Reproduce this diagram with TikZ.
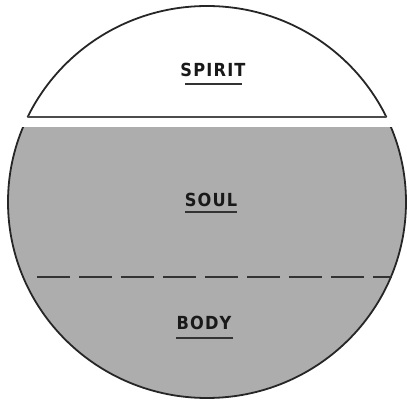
\documentclass[tikz,border=0pt]{standalone}
\usepackage{fontspec}
\newfontfamily\labelfont{DejaVu Sans Condensed}
\newcommand{\lsp}{\kern1.2pt}
\begin{document}
\begin{tikzpicture}[x=1pt,y=1pt,
  rim/.style={line width=1.8pt,black!85},
  chordline/.style={line width=1.1pt,black!70},
  shade/.style={fill=black!32},
  divider/.style={line width=1.3pt,black!80,dash pattern=on 33pt off 9pt},
  lbl/.style={font=\labelfont\bfseries\fontsize{18}{18}\selectfont,text=black!90,inner sep=0pt},
  uline/.style={line width=1.1pt,black!80}]
\useasboundingbox (0,0) rectangle (407,402);
% top segment (spirit)
\begin{scope}
  \clip (0,285) rectangle (407,402);
  \draw[rim] (207,200) ellipse [x radius=199,y radius=196];
\end{scope}
\begin{scope}
  \clip (207,200) ellipse [x radius=199,y radius=196];
  \draw[chordline] (0,285) -- (407,285);
\end{scope}
% bottom segment (soul + body)
\begin{scope}
  \clip (0,0) rectangle (407,274);
  \fill[shade] (207,200) ellipse [x radius=199,y radius=196];
  \draw[rim] (207,200) ellipse [x radius=199,y radius=196];
\end{scope}
\coordinate (dl) at (37,125);
\coordinate (dr) at (392,125);
\draw[divider] (dl) -- (dr);
% labels
\node[lbl] (spirit) at (213,332) {S\lsp P\lsp I\lsp R\lsp I\lsp T};
\node[lbl] (soul) at (211,202) {S\lsp O\lsp U\lsp L};
\node[lbl] (body) at (204,79) {B\lsp O\lsp D\lsp Y};
\coordinate (s1) at (185,318); \coordinate (s2) at (242,318);
\coordinate (o1) at (185,190); \coordinate (o2) at (237,190);
\coordinate (b1) at (176,64); \coordinate (b2) at (233,64);
\draw[uline] (s1) -- (s2);
\draw[uline] (o1) -- (o2);
\draw[uline] (b1) -- (b2);
\end{tikzpicture}
\end{document}
